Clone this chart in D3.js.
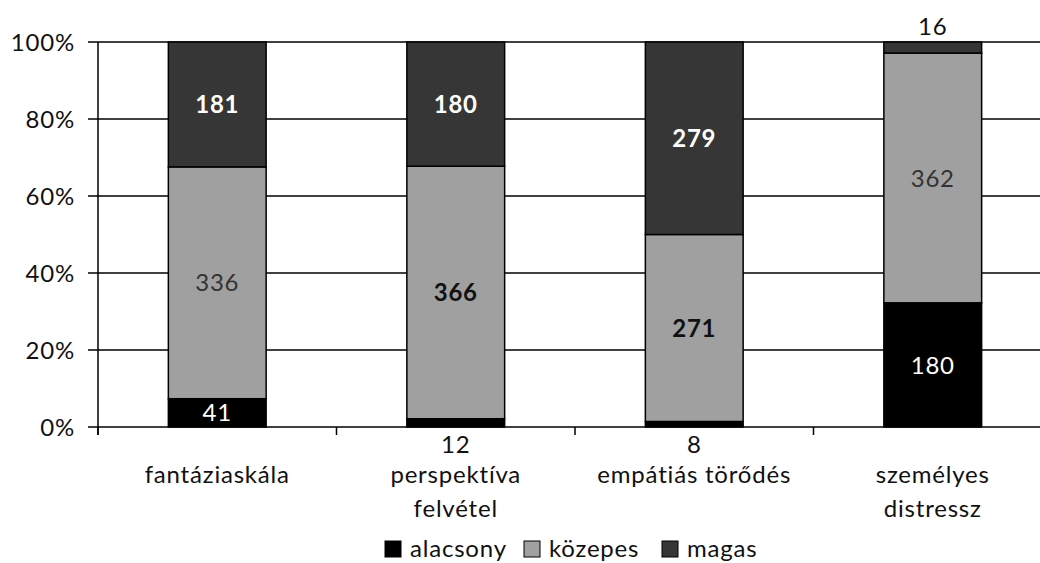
<!DOCTYPE html>
<html><head><meta charset="utf-8">
<script src="https://cdn.jsdelivr.net/npm/d3@7"></script>
<style>body{margin:0;background:#fff}svg{display:block}text{font-family:Lato,"Open Sans",sans-serif;letter-spacing:0.8px}</style>
</head><body><svg id="c" width="1040" height="563"></svg>
<script>
const categories = [["fantáziaskála"], ["perspektíva","felvétel"], ["empátiás törődés"], ["személyes","distressz"]];
const seriesNames = ["alacsony","közepes","magas"];
const alacsony = [41, 12, 8, 180];
const kozepes = [336, 366, 271, 362];
const magas = [181, 180, 279, 16];
const yTicks = [0, 0.2, 0.4, 0.6, 0.8, 1];
const colors = ["#000000", "#a0a0a0", "#363636"];
const labelBold = [[false,false,false,false],[false,true,true,false],[true,true,true,false]];

(function(){
const svg = d3.select("#c");
const FS = 24;
const mLeft = 98, mTop = 42, mBottom = 427, mRight = 1052;
const x = d3.scaleBand().domain(d3.range(categories.length)).range([mLeft, mRight]).paddingInner(0.59).paddingOuter(0.295);
const y = d3.scaleLinear().domain([0,1]).range([mBottom, mTop]);

svg.append("g").selectAll("line").data(yTicks).join("line")
  .attr("x1", mLeft-10).attr("x2", 1040).attr("y1", d=>y(d)).attr("y2", d=>y(d))
  .attr("stroke","#000").attr("stroke-width",1.5);
svg.append("line").attr("x1",mLeft).attr("x2",mLeft).attr("y1",mTop).attr("y2",mBottom+8).attr("stroke","#000").attr("stroke-width",1.5);
svg.append("g").selectAll("text").data(yTicks).join("text")
  .attr("x", 75).attr("y", d=>y(d)).attr("dy","0.36em").attr("text-anchor","end")
  .attr("font-size",FS).attr("fill","#111").text(d=>d3.format(".0%")(d));
const bstep = x.step();
svg.append("g").selectAll("line").data(d3.range(categories.length+1)).join("line")
  .attr("x1", i=>mLeft + i*bstep).attr("x2", i=>mLeft + i*bstep).attr("y1",mBottom).attr("y2",mBottom+8)
  .attr("stroke","#000").attr("stroke-width",1.5);

const data = categories.map((c,i)=>{const t=alacsony[i]+kozepes[i]+magas[i]; return [alacsony[i],kozepes[i],magas[i]].map(v=>v/t);});
const stack = d3.stack().keys([0,1,2])(data);
const vals = [alacsony, kozepes, magas];

stack.forEach((layer, s)=>{
  svg.append("g").selectAll("rect").data(layer).join("rect")
    .attr("x",(d,i)=>x(i)).attr("width",x.bandwidth())
    .attr("y",d=>y(d[1])).attr("height",d=>y(d[0])-y(d[1]))
    .attr("fill",colors[s]).attr("stroke","#000").attr("stroke-width",1.5);
});

stack.forEach((layer, s)=>{
  layer.forEach((d,i)=>{
    const h = y(d[0])-y(d[1]);
    let ly, fill, dy = "0.36em";
    const cx = x(i)+x.bandwidth()/2;
    if (h < 15) {
      fill="#111"; dy = "0";
      if (s===0) { ly = 453; }
      else { ly = y(d[1]) - 7; }
    } else {
      ly = (y(d[0])+y(d[1]))/2;
      fill = s===1 ? (labelBold[s][i] ? "#111" : "#333") : "#fff";
    }
    svg.append("text").attr("x",cx).attr("y",ly).attr("dy",dy).attr("text-anchor","middle")
      .attr("font-size",FS).attr("font-weight",labelBold[s][i]?"bold":"normal")
      .attr("fill",fill).text(vals[s][i]);
  });
});

categories.forEach((lines,i)=>{
  const cx = x(i)+x.bandwidth()/2;
  lines.forEach((l,k)=>svg.append("text").attr("x", cx).attr("y", 483 + k*34)
    .attr("text-anchor","middle").attr("font-size",FS).attr("fill","#111").text(l));
});

const legX = [385, 524, 662];
seriesNames.forEach((n,s)=>{
  svg.append("rect").attr("x",legX[s]).attr("y",541).attr("width",16).attr("height",16)
    .attr("fill",colors[s]).attr("stroke","#000").attr("stroke-width",1);
  svg.append("text").attr("x",legX[s]+25).attr("y",557).attr("font-size",FS).attr("fill","#111").text(n);
});
})();
</script></body></html>
